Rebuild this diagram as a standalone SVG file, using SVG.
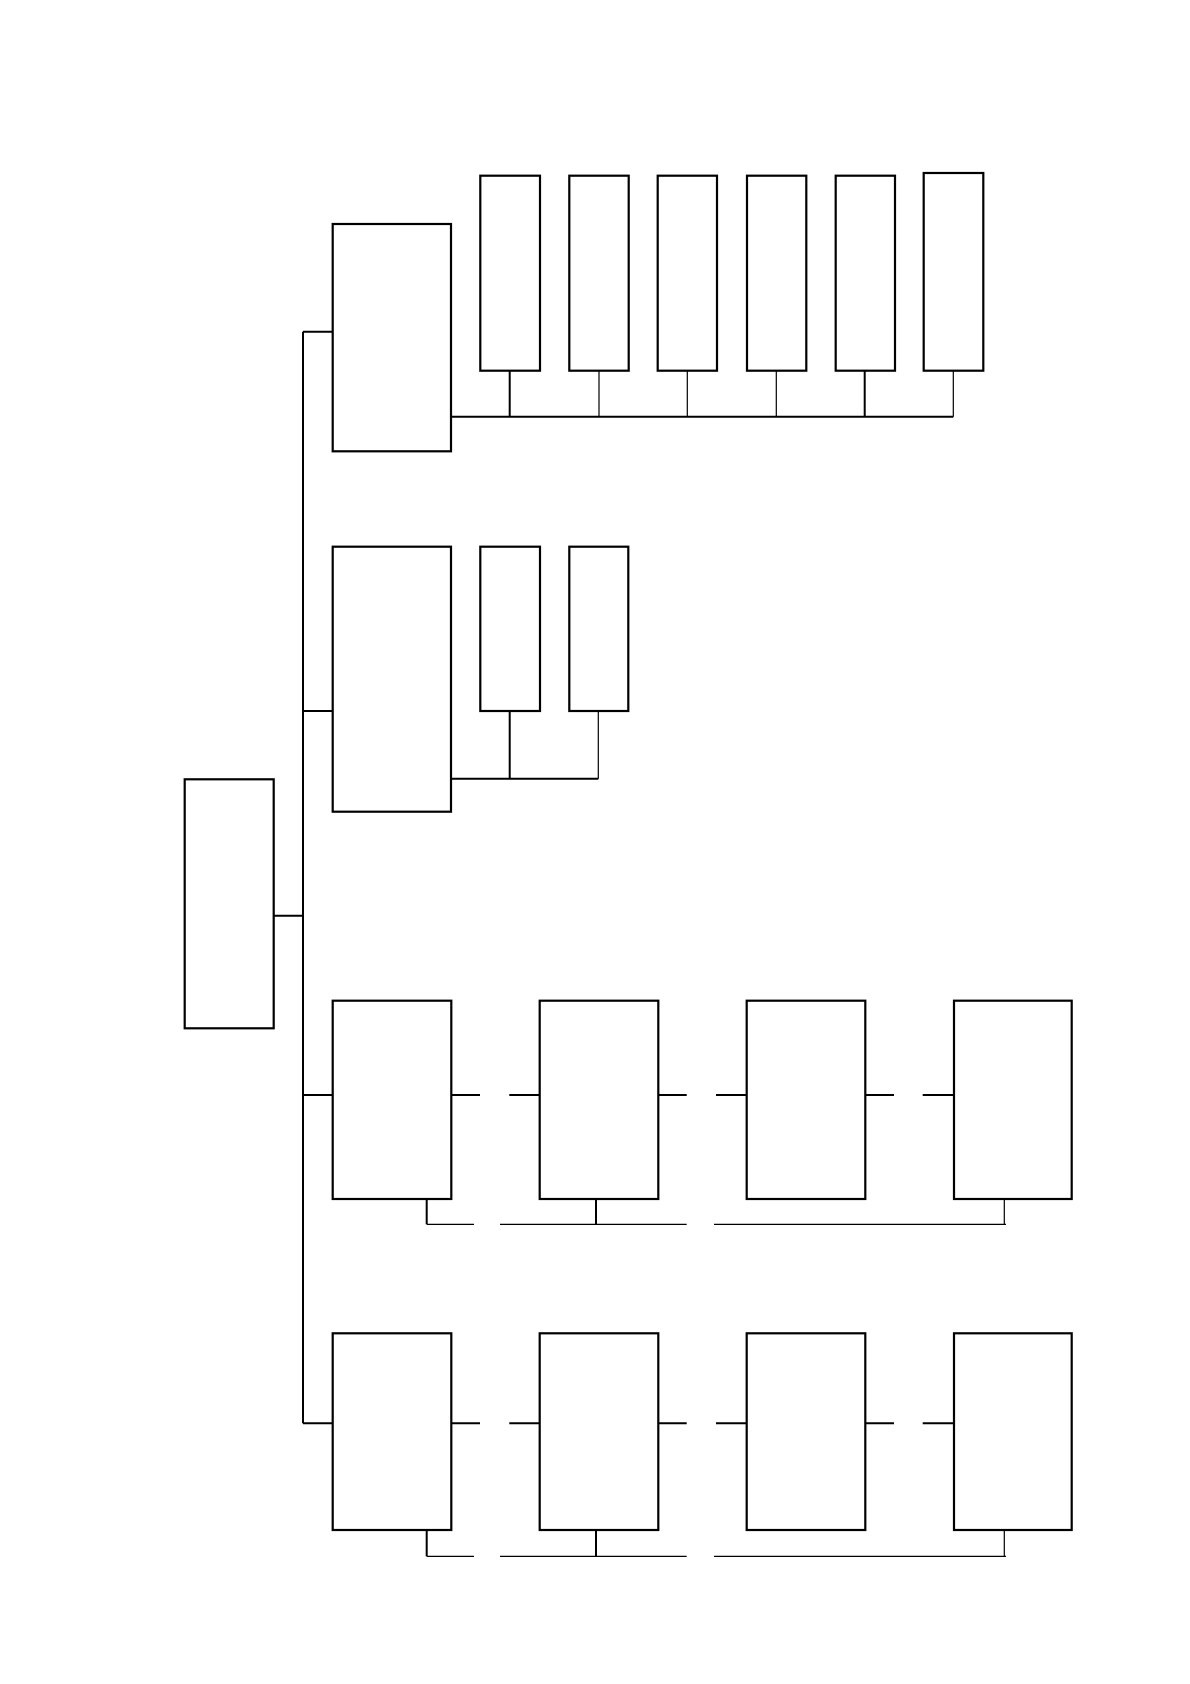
<svg xmlns="http://www.w3.org/2000/svg" width="1190" height="1684" viewBox="0 0 1190 1684">
<style>
.n{fill:#fff;stroke:#000;stroke-width:2.2}
.c{fill:none;stroke:#000;stroke-width:2}
.t{fill:none;stroke:#000;stroke-width:1.2}
</style>
<rect width="1190" height="1684" fill="#fff"/>
<g id="connectors">
<path class="c" d="M303 331.7V1423.3M273.7 915.7H303M303 331.7H332.7M303 711H332.7M303 1095H332.7M303 1423.3H332.7"/>
<path class="c" d="M451 416.7H953.3M509.7 370.7V416.7M864.7 370.7V416.7"/>
<path class="t" d="M599 370.7V416.7M687.3 370.7V416.7M776.3 370.7V416.7M953.3 370.7V416.7"/>
<path class="c" d="M451 778.7H598.3M509.7 711V778.7"/>
<path class="t" d="M598.3 711V778.7"/>
<path class="c" d="M451.3 1095H480M509.3 1095H539.7M658.3 1095H686.7M716 1095H746.7M865.3 1095H894M922.7 1095H954"/>
<path class="c" d="M426.7 1199V1224.3M596 1199V1224.3"/>
<path class="t" d="M426.7 1224.3H474M500 1224.3H686.7M714 1224.3H1006M1004.3 1199V1224.3"/>
<path class="c" d="M451.3 1423.3H480M509.3 1423.3H539.7M658.3 1423.3H686.7M716 1423.3H746.7M865.3 1423.3H894M922.7 1423.3H954"/>
<path class="c" d="M426.7 1530V1556.3M596 1530V1556.3"/>
<path class="t" d="M426.7 1556.3H474M500 1556.3H686.7M714 1556.3H1006M1004.3 1530V1556.3"/>
</g>
<g id="root"><rect class="n" x="184.7" y="779.3" width="89" height="249"/></g>
<g id="a"><rect class="n" x="332.7" y="224" width="118.3" height="227.3"/></g>
<g id="a1"><rect class="n" x="480.3" y="175.7" width="59.7" height="195"/></g>
<g id="a2"><rect class="n" x="569.3" y="175.7" width="59.4" height="195"/></g>
<g id="a3"><rect class="n" x="657.7" y="175.7" width="59.3" height="195"/></g>
<g id="a4"><rect class="n" x="747" y="175.7" width="59.3" height="195"/></g>
<g id="a5"><rect class="n" x="835.7" y="175.7" width="59.3" height="195"/></g>
<g id="a6"><rect class="n" x="923.7" y="173" width="59.6" height="197.7"/></g>
<g id="b"><rect class="n" x="332.7" y="546.7" width="118.3" height="265"/></g>
<g id="b1"><rect class="n" x="480.3" y="546.7" width="59.7" height="164.3"/></g>
<g id="b2"><rect class="n" x="569.3" y="546.7" width="59" height="164.3"/></g>
<g id="c1"><rect class="n" x="332.7" y="1000.7" width="118.6" height="198.3"/></g>
<g id="c2"><rect class="n" x="539.7" y="1000.7" width="118.6" height="198.3"/></g>
<g id="c3"><rect class="n" x="746.7" y="1000.7" width="118.6" height="198.3"/></g>
<g id="c4"><rect class="n" x="954" y="1000.7" width="117.7" height="198.3"/></g>
<g id="d1"><rect class="n" x="332.7" y="1333.3" width="118.6" height="196.7"/></g>
<g id="d2"><rect class="n" x="539.7" y="1333.3" width="118.6" height="196.7"/></g>
<g id="d3"><rect class="n" x="746.7" y="1333.3" width="118.6" height="196.7"/></g>
<g id="d4"><rect class="n" x="954" y="1333.3" width="117.7" height="196.7"/></g>
</svg>
